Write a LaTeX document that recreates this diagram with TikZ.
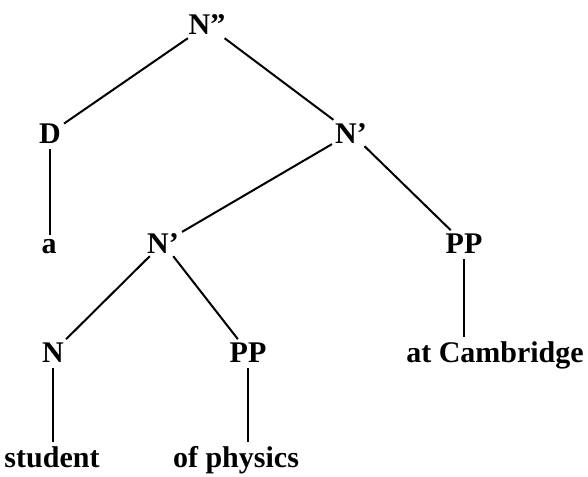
\documentclass[tikz,border=0pt]{standalone}
\usepackage{fontspec}
\setmainfont{Liberation Serif}
\usepackage{tikz}
\usetikzlibrary{positioning}

\begin{document}
\begin{tikzpicture}[x=1pt, y=-1pt, font=\fontsize{30}{31}\selectfont\bfseries,
    lbl/.style={inner sep=3pt, anchor=base},
    branch/.style={line width=2pt},
    stem/.style={line width=2pt, shorten <=3pt, shorten >=1pt}]
  \useasboundingbox (0,0) rectangle (588,476);
  % labels of the tree
  \node[lbl] (nbarbar) at (207,35) {N''};
  \node[lbl] (det)     at (50,143) {D};
  \node[lbl] (nbarA)   at (351,143) {N'};
  \node[lbl] (art)     at (49,253) {a};
  \node[lbl] (nbarB)   at (163,253) {N'};
  \node[lbl] (ppA)     at (464,253) {PP};
  \node[lbl] (noun)    at (53,362) {N};
  \node[lbl] (ppB)     at (248,362) {PP};
  \node[lbl] (cam)     at (495,362) {at Cambridge};
  \node[lbl] (student) at (52,467) {student};
  \node[lbl] (phys)    at (236,467) {of physics};
  % branches
  \draw[branch] (nbarbar) -- (det);
  \draw[branch] (nbarbar) -- (nbarA);
  \draw[branch] (nbarA) -- (nbarB);
  \draw[branch] (nbarA) -- (ppA);
  \draw[branch] (nbarB) -- (noun);
  \draw[branch] (nbarB) -- (ppB);
  % unary stems
  \draw[stem] (det.south) -- (det.south |- art.north);
  \draw[stem] (ppA.south) -- (ppA.south |- cam.north);
  \draw[stem] (noun.south) -- (noun.south |- student.north);
  \draw[stem] (ppB.south) -- (ppB.south |- phys.north);
\end{tikzpicture}
\end{document}
